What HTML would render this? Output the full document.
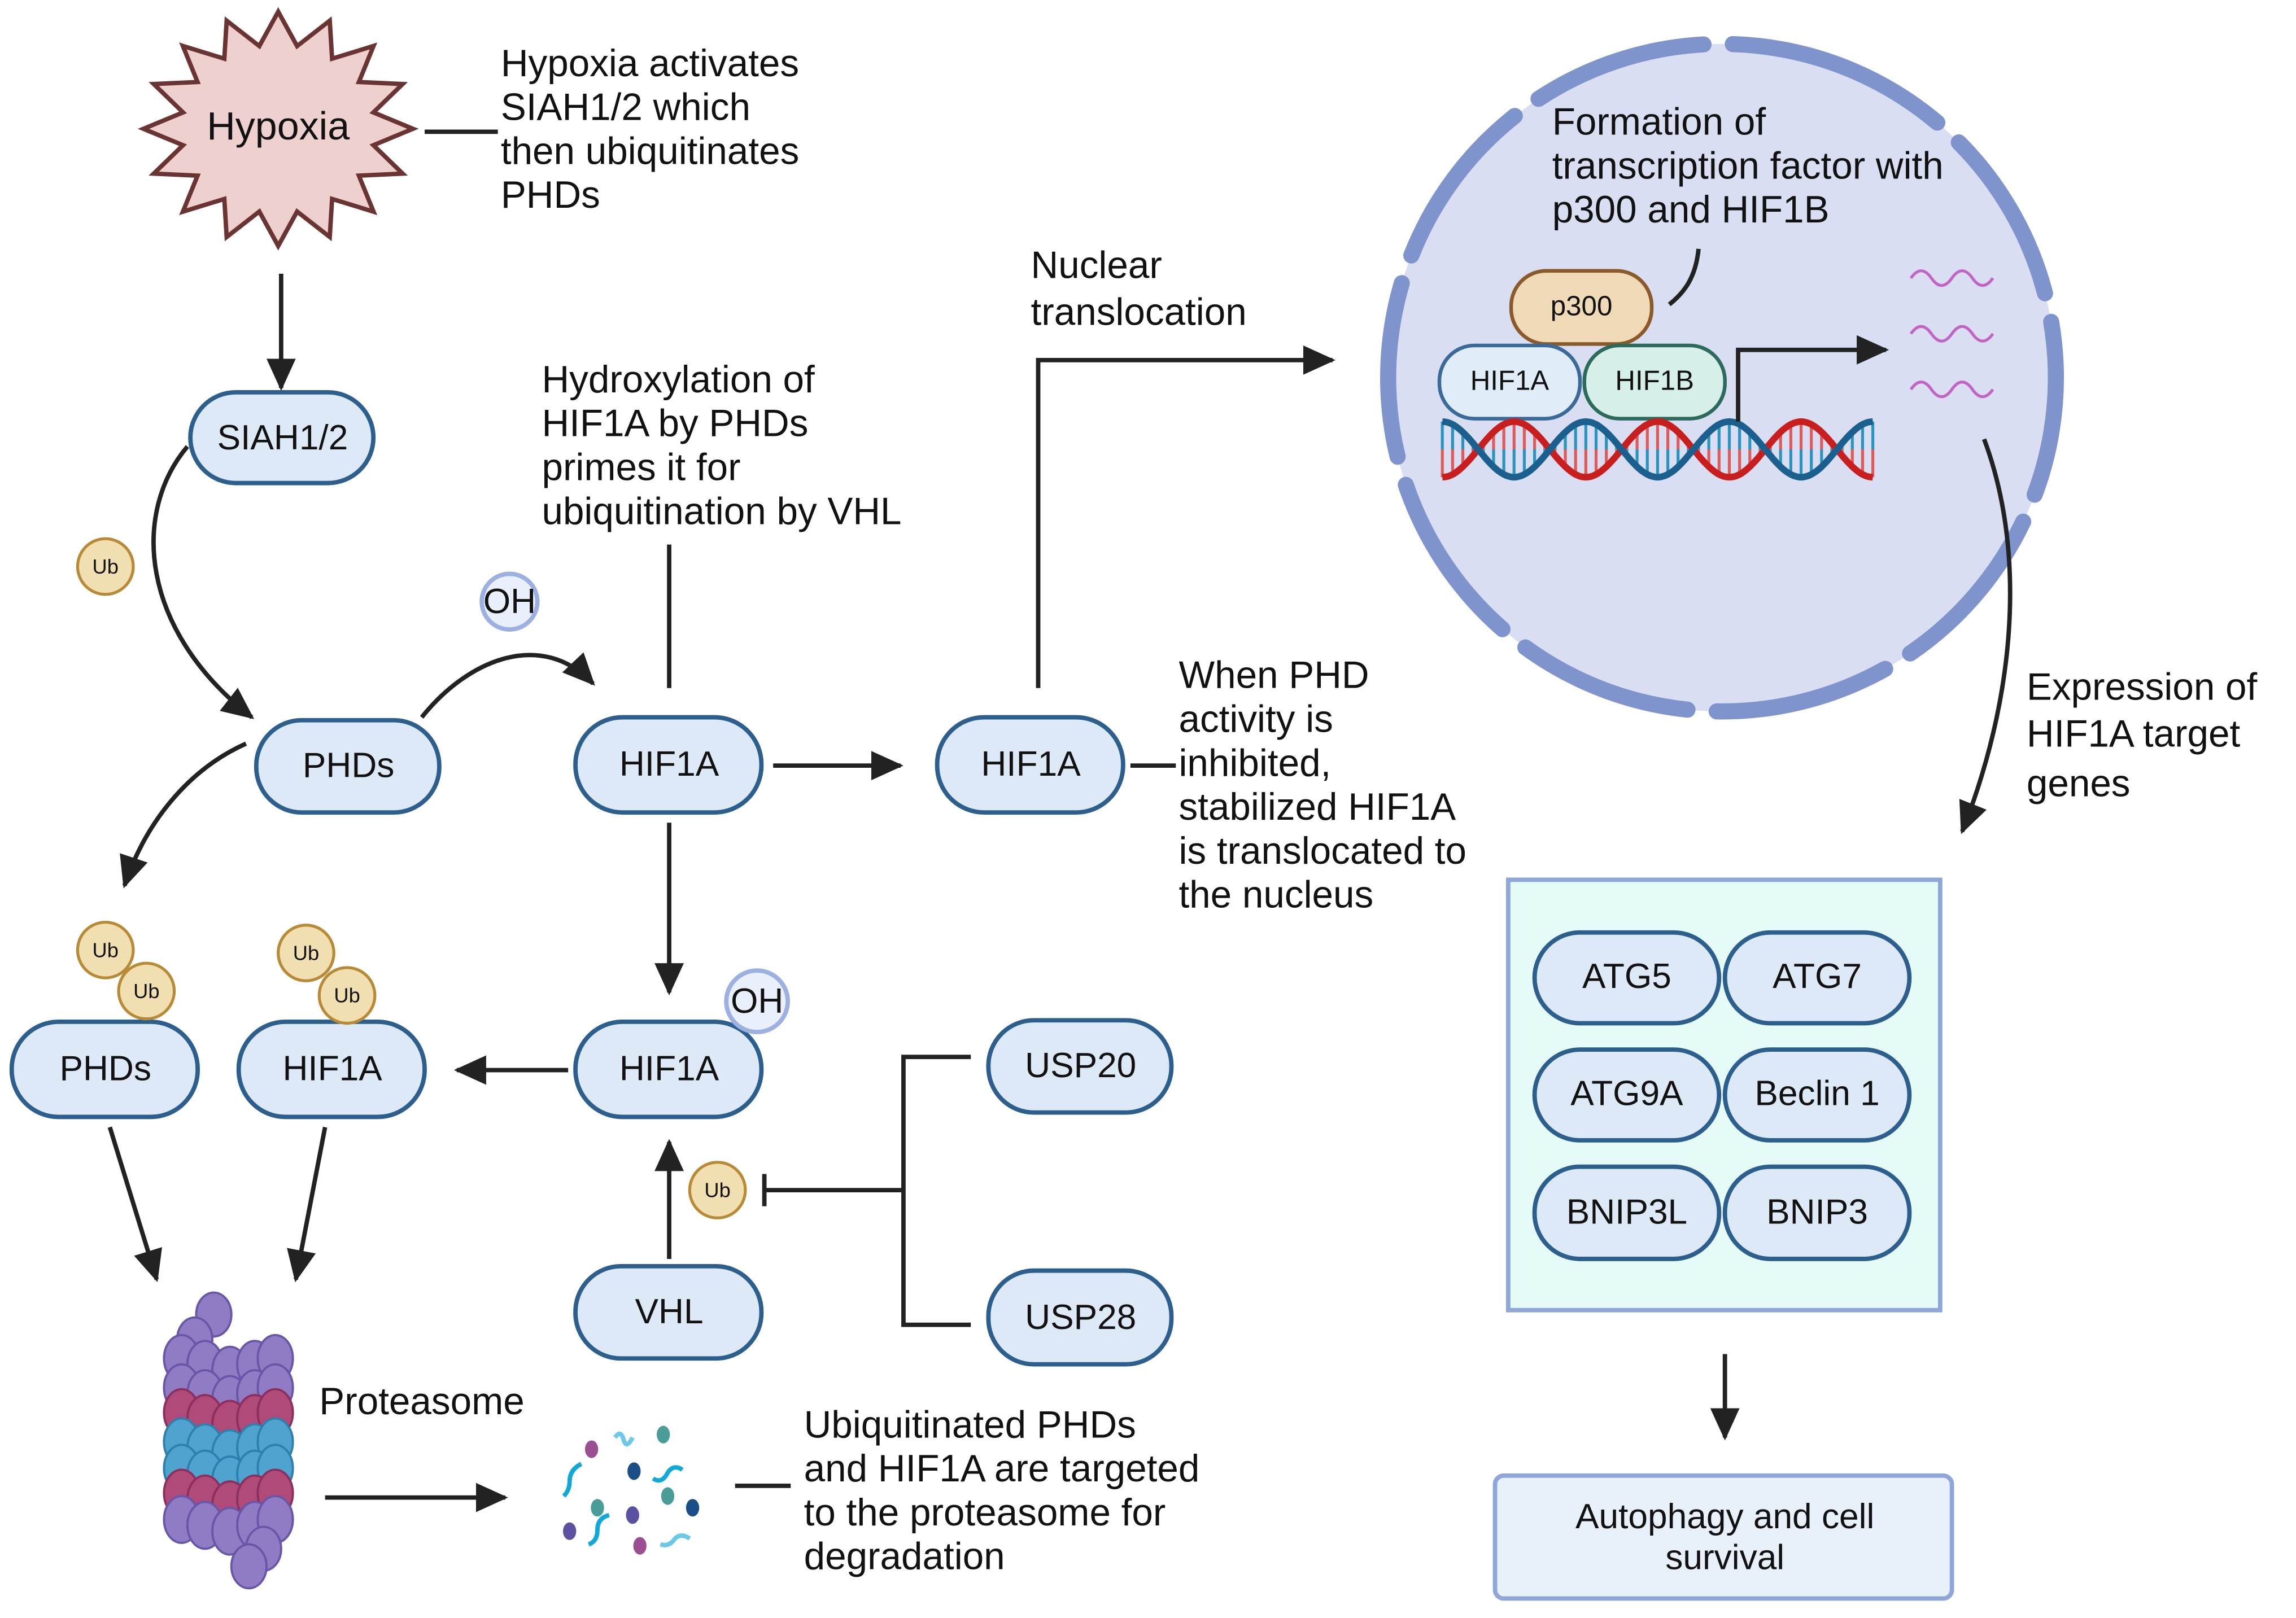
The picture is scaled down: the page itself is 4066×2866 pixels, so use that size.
<!DOCTYPE html>
<html><head><meta charset="utf-8">
<style>
html,body{margin:0;padding:0;background:#fff}
svg{display:block}
text{font-family:"Liberation Sans",sans-serif;fill:#111}
.n{fill:#dde9f7;stroke:#2d5f8e;stroke-width:3}
.t{font-size:24px;text-anchor:middle;dominant-baseline:central}
.l{font-size:26px}
.ub{fill:#f1dfb2;stroke:#b88a36;stroke-width:2}
.ubt{font-size:14px;text-anchor:middle;dominant-baseline:central}
.oh{fill:#eaf0fb;stroke:#9cb0e2;stroke-width:3}
.k{stroke:#222;stroke-width:3;fill:none}
</style></head>
<body>
<svg id="s" width="4066" height="2866" viewBox="0 0 1568 1105.3" preserveAspectRatio="none" xmlns="http://www.w3.org/2000/svg">
<defs>
<marker id="A" markerWidth="22" markerHeight="20" refX="20" refY="10" orient="auto" markerUnits="userSpaceOnUse"><path d="M0,0 L22,10 L0,20z" fill="#222"/></marker>
</defs>

<polygon id="star" fill="#eed0cf" stroke="#6a3432" stroke-width="3"/>
<text x="190" y="86" class="t" style="font-size:27px">Hypoxia</text>
<line x1="290" y1="90" x2="340" y2="90" class="k"/>
<text class="l"><tspan x="342" y="52">Hypoxia activates</tspan><tspan x="342" y="82">SIAH1/2 which</tspan><tspan x="342" y="112">then ubiquitinates</tspan><tspan x="342" y="142">PHDs</tspan></text>
<line x1="192" y1="187" x2="192" y2="265" class="k" marker-end="url(#A)"/>

<rect x="130" y="268" width="125" height="62" rx="31" class="n"/><text x="193" y="299" class="t">SIAH1/2</text>
<path d="M128,305 C90,350 95,430 172,490" class="k" marker-end="url(#A)"/>
<circle cx="72" cy="387" r="19" class="ub"/><text x="72" y="387" class="ubt">Ub</text>

<rect x="175" y="492" width="125" height="63" rx="31" class="n"/><text x="238" y="523" class="t">PHDs</text>
<path d="M288,490 C320,450 370,430 405,467" class="k" stroke-width="2" marker-end="url(#A)"/>
<circle cx="348" cy="411" r="19" class="oh"/><text x="348" y="411" class="t">OH</text>
<path d="M168,508 C130,525 100,560 85,605" class="k" marker-end="url(#A)"/>

<text class="l"><tspan x="370" y="268">Hydroxylation of</tspan><tspan x="370" y="298">HIF1A by PHDs</tspan><tspan x="370" y="328">primes it for</tspan><tspan x="370" y="358">ubiquitination by VHL</tspan></text>
<line x1="457" y1="372" x2="457" y2="470" class="k"/>

<rect x="393" y="490" width="127" height="65" rx="32" class="n"/><text x="457" y="522" class="t">HIF1A</text>
<line x1="528" y1="523" x2="615" y2="523" class="k" marker-end="url(#A)"/>
<line x1="457" y1="562" x2="457" y2="678" class="k" marker-end="url(#A)"/>

<rect x="640" y="490" width="127" height="65" rx="32" class="n"/><text x="704" y="522" class="t">HIF1A</text>
<line x1="772" y1="523" x2="803" y2="523" class="k"/>
<text class="l"><tspan x="805" y="470">When PHD</tspan><tspan x="805" y="500">activity is</tspan><tspan x="805" y="530">inhibited,</tspan><tspan x="805" y="560">stabilized HIF1A</tspan><tspan x="805" y="590">is translocated to</tspan><tspan x="805" y="620">the nucleus</tspan></text>
<path d="M709,470 L709,246 L910,246" class="k" marker-end="url(#A)"/>
<text class="l"><tspan x="704" y="190">Nuclear</tspan><tspan x="704" y="222">translocation</tspan></text>

<rect x="393" y="698" width="127" height="65" rx="32" class="n"/><text x="457" y="730" class="t">HIF1A</text>
<circle cx="517" cy="684" r="21" class="oh"/><text x="517" y="684" class="t">OH</text>
<line x1="388" y1="731" x2="312" y2="731" class="k" marker-end="url(#A)"/>

<rect x="8" y="698" width="127" height="65" rx="32" class="n"/><text x="72" y="730" class="t">PHDs</text>
<rect x="163" y="698" width="127" height="65" rx="32" class="n"/><text x="227" y="730" class="t">HIF1A</text>
<circle cx="72" cy="649" r="19" class="ub"/><text x="72" y="649" class="ubt">Ub</text>
<circle cx="100" cy="677" r="19" class="ub"/><text x="100" y="677" class="ubt">Ub</text>
<circle cx="209" cy="651" r="19" class="ub"/><text x="209" y="651" class="ubt">Ub</text>
<circle cx="237" cy="680" r="19" class="ub"/><text x="237" y="680" class="ubt">Ub</text>
<line x1="75" y1="770" x2="107" y2="874" class="k" marker-end="url(#A)"/>
<line x1="222" y1="770" x2="202" y2="874" class="k" marker-end="url(#A)"/>

<rect x="393" y="865" width="127" height="63" rx="31" class="n"/><text x="457" y="896" class="t">VHL</text>
<line x1="457" y1="860" x2="457" y2="780" class="k" marker-end="url(#A)"/>
<circle cx="490" cy="813" r="19" class="ub"/><text x="490" y="813" class="ubt">Ub</text>
<line x1="522" y1="813" x2="617" y2="813" class="k"/><line x1="522" y1="802" x2="522" y2="824" class="k"/>
<path d="M663,722 L617,722 L617,905 L663,905" class="k"/>
<rect x="675" y="697" width="125" height="63" rx="31" class="n"/><text x="738" y="728" class="t">USP20</text>
<rect x="675" y="868" width="125" height="64" rx="31" class="n"/><text x="738" y="900" class="t">USP28</text>

<g id="prot" stroke-width="1.5"></g>
<text x="218" y="966" class="l">Proteasome</text>
<line x1="222" y1="1023" x2="345" y2="1023" class="k" marker-end="url(#A)"/>
<g id="frag"></g>
<line x1="502" y1="1015" x2="540" y2="1015" class="k"/>
<text class="l"><tspan x="549" y="982">Ubiquitinated PHDs</tspan><tspan x="549" y="1012">and HIF1A are targeted</tspan><tspan x="549" y="1042">to the proteasome for</tspan><tspan x="549" y="1072">degradation</tspan></text>

<circle cx="1176" cy="258" r="228" fill="#d9def2"/>
<circle cx="1176" cy="258" r="228" fill="none" stroke="#7f93cc" stroke-width="11" stroke-dasharray="120 20" stroke-linecap="round" transform="rotate(-80 1176 258)"/>
<text class="l"><tspan x="1060" y="92">Formation of</tspan><tspan x="1060" y="122">transcription factor with</tspan><tspan x="1060" y="152">p300 and HIF1B</tspan></text>
<path d="M1160,170 C1158,190 1150,200 1140,208" class="k"/>
<rect x="1032" y="185" width="96" height="50" rx="24" fill="#f0d9b7" stroke="#8b5a2b" stroke-width="2.5"/><text x="1080" y="209" class="t" style="font-size:19px">p300</text>
<rect x="983" y="236" width="96" height="50" rx="24" fill="#e1ecf9" stroke="#3a6a9a" stroke-width="2.5"/><text x="1031" y="260" class="t" style="font-size:19px">HIF1A</text>
<rect x="1082" y="236" width="96" height="50" rx="24" fill="#d6efe9" stroke="#2c6a5b" stroke-width="2.5"/><text x="1130" y="260" class="t" style="font-size:19px">HIF1B</text>
<g id="dna"></g>
<path d="M1187,288 L1187,239 L1288,239" class="k" marker-end="url(#A)"/>
<g fill="none" stroke="#c264c4" stroke-width="2">
<path d="M1305,190 q7,-10 14,0 t14,0 t14,0 t14,0"/>
<path d="M1305,228 q7,-10 14,0 t14,0 t14,0 t14,0"/>
<path d="M1305,266 q7,-10 14,0 t14,0 t14,0 t14,0"/>
</g>
<path d="M1355,300 C1385,380 1375,480 1340,568" class="k" marker-end="url(#A)"/>
<text class="l"><tspan x="1384" y="478">Expression of</tspan><tspan x="1384" y="510">HIF1A target</tspan><tspan x="1384" y="544">genes</tspan></text>

<rect x="1030" y="601" width="295" height="294" fill="#e4fbf7" stroke="#8ea6d8" stroke-width="3"/>
<rect x="1048" y="637" width="126" height="62" rx="31" class="n"/><text x="1111" y="667" class="t">ATG5</text>
<rect x="1178" y="637" width="126" height="62" rx="31" class="n"/><text x="1241" y="667" class="t">ATG7</text>
<rect x="1048" y="717" width="126" height="62" rx="31" class="n"/><text x="1111" y="747" class="t">ATG9A</text>
<rect x="1178" y="717" width="126" height="62" rx="31" class="n"/><text x="1241" y="747" class="t">Beclin 1</text>
<rect x="1048" y="797" width="126" height="63" rx="31" class="n"/><text x="1111" y="828" class="t">BNIP3L</text>
<rect x="1178" y="797" width="126" height="63" rx="31" class="n"/><text x="1241" y="828" class="t">BNIP3</text>
<line x1="1178" y1="925" x2="1178" y2="982" class="k" marker-end="url(#A)"/>
<rect x="1021" y="1008" width="312" height="84" rx="6" fill="#e8f0fa" stroke="#8ea6d8" stroke-width="3"/>
<text x="1178" y="1036" class="t">Autophagy and cell</text><text x="1178" y="1064" class="t">survival</text>
</svg>
<script>
var NS="http://www.w3.org/2000/svg";
var p=[],n=16,cx=190,cy=88;
for(var i=0;i<2*n;i++){var a=-Math.PI/2+i*Math.PI/n;var r=i%2==0?1:0.72;p.push((cx+92*r*Math.cos(a)).toFixed(1)+","+(cy+80*r*Math.sin(a)).toFixed(1));}
document.getElementById("star").setAttribute("points",p.join(" "));
function el(t,at,par){var e=document.createElementNS(NS,t);for(var k in at)e.setAttribute(k,at[k]);par.appendChild(e);return e;}
var g=document.getElementById("prot");
var rows=[[928,"#8f7cc4","#6a56a8"],[948,"#8f7cc4","#6a56a8"],[965,"#b04a78","#8c2f5c"],[985,"#4ea3cf","#2f7fae"],[1003,"#4ea3cf","#2f7fae"],[1020,"#b04a78","#8c2f5c"],[1038,"#8f7cc4","#6a56a8"]];
el("ellipse",{cx:146,cy:898,rx:12,ry:15,fill:"#8f7cc4",stroke:"#6a56a8"},g);
el("ellipse",{cx:133,cy:915,rx:12,ry:15,fill:"#8f7cc4",stroke:"#6a56a8"},g);
rows.forEach(function(r){[124,140,157,174,188].forEach(function(x,j){el("ellipse",{cx:x,cy:r[0]+(j==2?8:(j==1||j==3?4:0)),rx:12,ry:16,fill:r[1],stroke:r[2]},g);});});
el("ellipse",{cx:180,cy:1058,rx:12,ry:15,fill:"#8f7cc4",stroke:"#6a56a8"},g);
el("ellipse",{cx:170,cy:1070,rx:12,ry:15,fill:"#8f7cc4",stroke:"#6a56a8"},g);
var f=document.getElementById("frag");
[[404,990,"#9b4e92"],[453,980,"#4a9c98"],[433,1005,"#1a4e86"],[456,1022,"#4a9c98"],[432,1035,"#5a52a0"],[408,1030,"#4a9c98"],[473,1030,"#1a4e86"],[389,1046,"#5a52a0"],[437,1056,"#9b4e92"]].forEach(function(d){el("ellipse",{cx:d[0],cy:d[1],rx:4.5,ry:6,fill:d[2]},f);});
[["M420,982 q4,-6 6,2 q2,6 6,-2","#6cc8e8"],["M385,1022 q4,-4 4,-10 q0,-8 8,-12","#10a8d8"],["M446,1010 q6,4 10,-4 q4,-6 10,-2","#10a8d8"],["M402,1055 q6,-2 6,-10 q0,-8 8,-10","#10a8d8"],["M451,1055 q6,2 10,-4 q4,-4 10,0","#6cc8e8"]].forEach(function(d){el("path",{d:d[0],stroke:d[1],"stroke-width":3,fill:"none"},f);});
var dg=document.getElementById("dna"),x0=985,x1=1280,yc=307,amp=19,per=98;
for(var x=x0;x<=x1;x+=7){var y1=yc+amp*Math.sin((x-x0)/per*2*Math.PI+Math.PI/2),y2=yc-amp*Math.sin((x-x0)/per*2*Math.PI+Math.PI/2);var m=(y1+y2)/2;
el("line",{x1:x,y1:y1,x2:x,y2:m,stroke:"#e05a5a","stroke-width":2},dg);el("line",{x1:x,y1:m,x2:x,y2:y2,stroke:"#2a94c0","stroke-width":2},dg);}
var pa="",pb="";for(var x=x0;x<=x1;x+=2){var s=Math.sin((x-x0)/per*2*Math.PI+Math.PI/2);pa+=(x==x0?"M":"L")+x+","+(yc+amp*s).toFixed(1);pb+=(x==x0?"M":"L")+x+","+(yc-amp*s).toFixed(1);}
el("path",{d:pa,stroke:"#c81e1e","stroke-width":4.5,fill:"none"},dg);el("path",{d:pb,stroke:"#1a5f8e","stroke-width":4.5,fill:"none"},dg);
</script>
</body></html>
